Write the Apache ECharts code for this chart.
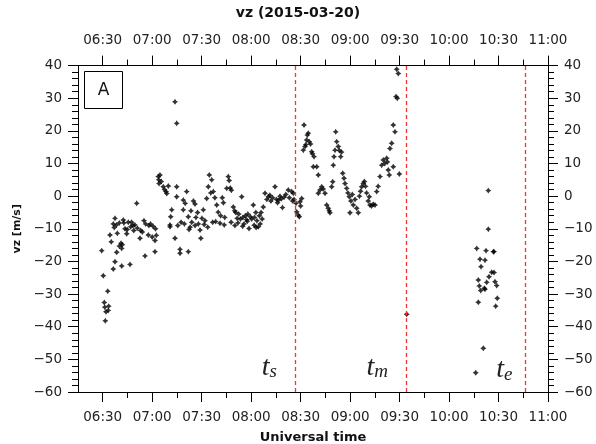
<!DOCTYPE html>
<html><head><meta charset="utf-8">
<script src="https://cdn.jsdelivr.net/npm/echarts@6/dist/echarts.min.js"></script>
<style>html,body{margin:0;padding:0;background:#fff}#c{width:596px;height:444px}</style>
</head><body><div id="c"></div>
<script>
// ---- data (time UT, vz in m/s) ----
const titleText = 'vz (2015-03-20)';
const tickLabels = ['06:30','07:00','07:30','08:00','08:30','09:00','09:30','10:00','10:30','11:00'];
const minorTickLabels = ['06:45','07:15','07:45','08:15','08:45','09:15','09:45','10:15','10:45'];
const eventTimes = ['08:26:36','09:34:18','10:46:18'];
const eventSubs = ['s','m','e'];
const eventLabelAt = [['08:11:00',-52.6],['09:16:30',-52.6],['10:33:30',-53.3]];

const vzEarly = [
['06:29:22',-16.7],['06:30:20',-24.4],['06:30:57',-32.6],['06:31:15',-34.0],['06:31:33',-38.2],['06:31:59',-35.4],
['06:33:01',-29.1],['06:33:20',-35.0],['06:33:37',-33.7],['06:34:24',-11.9],['06:35:10',-14.0],['06:36:24',-8.5],
['06:36:24',-22.3],['06:37:00',-9.6],['06:37:26',-20.1],['06:37:26',-6.8],['06:38:20',-8.8],['06:38:28',-17.2],
['06:38:50',-11.4],['06:40:03',-15.3],['06:40:03',-8.2],['06:41:05',-14.4],['06:41:30',-16.0],['06:41:30',-21.4],
['06:41:50',-14.9],['06:42:28',-7.3],['06:42:50',-8.2],['06:43:30',-10.0],['06:44:32',-11.5],['06:44:50',-10.2],
['06:45:30',-8.0],['06:46:32',-20.9],['06:46:57',-9.4],['06:47:30',-8.0],['06:48:20',-9.0],['06:48:50',-10.5],
['06:49:30',-8.8],['06:50:36',-2.2],['06:51:00',-9.8],['06:52:36',-12.9],['06:53:00',-10.5],['06:54:00',-11.0],
['06:55:00',-7.5],['06:55:38',-18.3],['06:56:00',-8.5],['06:57:38',-11.9],['06:58:00',-9.0],['06:59:00',-8.5],
['07:00:00',-12.5],['07:00:30',-9.2],['07:01:41',-13.6],['07:01:41',-17.0],['07:02:00',-10.0],['07:02:30',-12.0]
];
const vzRise = [
['07:03:41',6.0],['07:04:00',5.0],['07:04:43',6.5],['07:04:10',3.9],['07:05:30',4.5],['07:06:44',2.9],
['07:07:30',2.0],['07:08:22',1.4],['07:08:50',0.8],['07:09:46',3.1],['07:10:47',-9.4],['07:10:47',-8.8],
['07:11:49',-4.2],['07:11:13',-6.3],['07:13:49',-12.9],['07:13:49',28.9],['07:14:51',22.3],['07:14:51',2.9],
['07:14:51',-0.2],['07:16:51',-17.5],['07:16:51',-16.3],['07:15:30',-9.0],['07:17:30',-8.0]
];
const vzBeforeTs = [
['07:18:51',-1.2],['07:20:00',-2.2],['07:20:55',1.4],['07:18:51',-4.2],['07:21:53',-6.3],['07:21:53',-17.0],
['07:22:20',-10.2],['07:23:30',-4.5],['07:24:00',-8.0],['07:25:00',-1.5],['07:25:57',-2.4],['07:26:30',-6.5],
['07:27:30',-5.0],['07:28:00',-8.5],['07:28:59',-10.4],['07:29:30',-12.9],['07:30:10',-6.8],['07:30:59',-4.2],
['07:32:00',-7.5],['07:33:02',-0.7],['07:34:01',2.9],['07:34:37',6.5],['07:36:05',5.0],['07:35:30',1.0],
['07:37:03',1.4],['07:38:00',-0.5],['07:39:07',-2.7],['07:40:00',-4.9],['07:41:07',-8.3],['07:41:30',-6.0],
['07:42:30',-0.5],['07:43:10',-2.0],['07:44:00',-6.5],['07:45:10',2.4],['07:46:08',6.0],['07:46:40',4.8],
['07:47:20',2.5],['07:48:00',1.8],['07:49:10',-3.3],['07:50:00',-4.5],['07:50:40',-5.0],['07:51:30',-6.8],
['07:52:30',-5.5],['07:53:30',-7.0],['07:54:16',-0.2],['07:55:00',-6.5],['07:55:40',-8.5],['07:56:30',-6.0],
['07:57:10',-7.2],['07:58:00',-5.5],['07:58:42',-9.9],['07:59:30',-6.3],['08:00:20',-7.0],['08:01:18',-2.7],
['08:02:00',-6.5],['08:02:50',-5.0],['08:03:30',-7.5],['08:04:20',-9.4],['08:05:00',-6.0],['08:06:00',-5.0],
['08:07:22',-3.3],['08:08:24',0.9],['08:09:30',-1.0],['08:10:30',-0.2],['08:11:20',0.3],['08:12:00',-1.5],
['08:13:00',-0.5],['08:14:28',2.9],['08:15:20',-1.0],['08:16:00',-2.0],['08:16:40',-1.2],['08:17:30',0.0],
['08:18:20',-0.8],['08:19:00',-3.5],['08:20:00',-0.3],['08:21:00',0.5],['08:22:31',1.9],['08:23:10',-0.5],
['08:24:35',1.4],['08:25:10',-1.5],['08:25:33',0.9],['08:26:00',-1.0],
['07:19:30',-8.5],['07:23:00',-9.5],['07:26:00',-9.0],['07:31:30',-8.7],['07:33:40',-9.5],['07:36:40',-8.0],
['07:38:30',-7.8],['07:43:40',-8.8],['07:47:50',-8.0],['07:50:10',-9.0],['07:52:00',-8.2],['07:54:50',-9.2],
['07:57:40',-7.7],['08:01:50',-8.9],['08:03:00',-9.6],['08:05:30',-8.5],['08:06:40',-7.0]
];
const vzBetween = [
['08:27:12',-2.2],['08:27:37',-4.8],['08:28:35',-5.8],['08:29:11',-6.3],['08:29:37',-1.7],['08:30:39',-0.7],
['08:30:00',-3.0],['08:31:37',14.1],['08:32:03',21.8],['08:32:39',15.2],['08:33:10',15.8],['08:33:41',17.2],
['08:34:03',18.7],['08:34:39',19.3],['08:35:15',16.7],['08:36:00',16.0],['08:36:43',13.6],['08:37:10',13.0],
['08:38:07',12.1],['08:37:41',9.0],['08:39:45',9.0],['08:40:43',6.5],['08:40:43',0.9],['08:41:45',1.9],
['08:42:47',2.9],['08:43:40',2.2],['08:44:47',0.9],['08:45:48',-2.7],['08:46:46',-3.7],['08:47:48',-5.1],
['08:47:20',-4.5],['08:48:50',2.9],['08:49:27',4.4],['08:49:49',9.5],['08:50:14',12.1],['08:50:51',14.1],
['08:51:16',19.7],['08:51:52',16.7],['08:52:50',15.2],['08:53:30',14.0],['08:54:18',12.1],['08:54:50',13.5],
['08:55:31',7.0],['08:56:18',5.5],['08:56:55',3.9],['08:57:56',2.4],['08:58:40',1.0],['08:59:31',-0.2],
['08:59:56',-5.1],['09:00:30',-1.5],['09:01:20',0.5],['09:01:56',-2.7],['09:03:00',-1.0],['09:04:00',-3.7],
['09:04:58',-5.1],['09:05:40',0.0],['09:06:20',1.5],['09:07:02',2.9],['09:08:00',3.9],['09:08:40',4.5],
['09:09:20',3.0],['09:10:00',1.0],['09:11:00',-1.5],['09:11:38',-0.2],['09:12:04',-2.7],['09:13:00',-3.0],
['09:14:00',-2.5],['09:15:06',-2.7],['09:16:08',1.4],['09:17:00',3.0],['09:18:08',6.0],['09:19:10',9.5],
['09:20:08',11.1],['09:21:00',10.0],['09:22:11',11.6],['09:22:40',10.5],['09:23:09',8.0],['09:23:45',6.5],
['09:24:11',14.6],['09:25:13',16.2],['09:26:11',21.8],['09:26:11',9.0],['09:27:13',19.7],['09:27:50',30.5],
['09:28:37',30.0],['09:28:15',38.9],['09:29:14',37.6],['09:29:51',6.8],['09:34:19',-36.2]
];
const vzLate = [
['10:16:10',-54.1],['10:16:47',-16.0],['10:17:45',-25.7],['10:17:45',-32.5],['10:18:21',-27.5],['10:18:46',-19.3],
['10:19:12',-28.9],['10:19:23',-21.6],['10:20:47',-46.6],['10:21:23',-28.2],['10:21:48',-19.6],['10:21:48',-28.5],
['10:22:25',-16.7],['10:22:50',-26.4],['10:23:48',1.7],['10:23:48',-10.1],['10:24:14',-24.7],['10:25:52',-23.3],
['10:26:50',-17.0],['10:27:16',-17.0],['10:27:16',-23.4],['10:27:52',-26.2],['10:28:17',-33.7],['10:28:54',-27.4],
['10:29:15',-31.3]
];

// ---- helpers ----
function toMin(s){const p=s.split(':').map(Number);return p[0]*60+p[1]+(p[2]||0)/60;}
function fmtHM(v){const h=Math.floor(v/60+1e-9),m=Math.round(v-h*60);return String(h).padStart(2,'0')+':'+String(m).padStart(2,'0');}
function fmtY(v){return v<0?'\u2212'+Math.abs(v):String(v);}
const FONT='DejaVu Sans';
const X_MIN=toMin('06:15'), X_MAX=toMin('11:00');
const majorVals=tickLabels.map(toMin), minorVals=minorTickLabels.map(toMin);

function xAxis(pos, vals, len, showLabel, margin, name){
  return {type:'value', position:pos, min:X_MIN, max:X_MAX,
    name: name||'', nameLocation:'middle', nameGap:39,
    nameTextStyle:{fontFamily:FONT,fontWeight:'bold',fontSize:13,color:'#111'},
    axisLine:{show:true,onZero:false,lineStyle:{color:'#000',width:1}},
    axisTick:{show:true,inside:false,length:len,customValues:vals,lineStyle:{color:'#000',width:1}},
    axisLabel:{show:showLabel,customValues:vals,formatter:fmtHM,margin:margin||16,fontFamily:FONT,fontSize:13.5,color:'#222'},
    splitLine:{show:false}};
}
function yAxis(pos, name){
  return {type:'value', position:pos, min:-60, max:40, interval:10,
    name:name||'', nameLocation:'middle', nameGap:48, nameRotate:90,
    nameTextStyle:{fontFamily:FONT,fontWeight:'bold',fontSize:11,color:'#111'},
    axisLine:{show:true,onZero:false,lineStyle:{color:'#000',width:1}},
    axisTick:{show:true,inside:false,length:10,lineStyle:{color:'#000',width:1}},
    minorTick:{show:true,splitNumber:5,length:6,lineStyle:{color:'#000',width:1}},
    axisLabel:{formatter:fmtY,margin:16,fontFamily:FONT,fontSize:13.5,color:'#222'},
    splitLine:{show:false}};
}

const allPts=[].concat(vzEarly,vzRise,vzBeforeTs,vzBetween,vzLate).map(p=>[toMin(p[0]),p[1]]);
const star='path://M0,-10L4,-4L10,0L4,4L0,10L-4,4L-10,0L-4,-4Z';

const chart=echarts.init(document.getElementById('c'),null,{renderer:'canvas'});
chart.setOption({
  animation:false,
  backgroundColor:'#fff',
  title:{text:titleText,left:'center',top:1,textStyle:{fontFamily:FONT,fontWeight:'bold',fontSize:14,color:'#111'}},
  grid:{left:78,right:48,top:65.6,bottom:52,containLabel:false,outerBoundsMode:'none'},
  xAxis:[xAxis('bottom',majorVals,10,true,18,'Universal time'),xAxis('bottom',minorVals,6,false),
         xAxis('top',majorVals,10,true,18),xAxis('top',minorVals,6,false)],
  yAxis:[yAxis('left','vz [m/s]'),yAxis('right')],
  graphic:[{type:'group',left:84,top:71,children:[
    {type:'rect',shape:{x:0,y:0,width:38,height:37},style:{fill:'#fff',stroke:'#000',lineWidth:1}},
    {type:'text',x:19,y:19,style:{text:'A',fontFamily:FONT,fontSize:17,fill:'#111',align:'center',verticalAlign:'middle'}}
  ]}],
  series:[{
    type:'scatter', xAxisIndex:0, yAxisIndex:0, data:allPts,
    symbol:star, symbolSize:6, itemStyle:{color:'#000'}, silent:true,
    markLine:{silent:true,symbol:'none',label:{show:false},
      lineStyle:{color:'#f53535',type:[4,3],width:1.3},
      data:eventTimes.map(t=>({xAxis:toMin(t)}))},
    markPoint:{silent:true,symbol:'circle',symbolSize:0,
      data:eventLabelAt.map((p,i)=>({coord:[toMin(p[0]),p[1]],
        label:{show:true,position:'inside',formatter:'{a|t}{b|'+eventSubs[i]+'}',
          rich:{a:{fontFamily:'Liberation Serif',fontStyle:'italic',fontSize:28,color:'#222',lineHeight:28},
                b:{fontFamily:'Liberation Serif',fontStyle:'italic',fontSize:19,color:'#222',lineHeight:11,verticalAlign:'bottom'}}}}))}
  }]
});
</script></body></html>
